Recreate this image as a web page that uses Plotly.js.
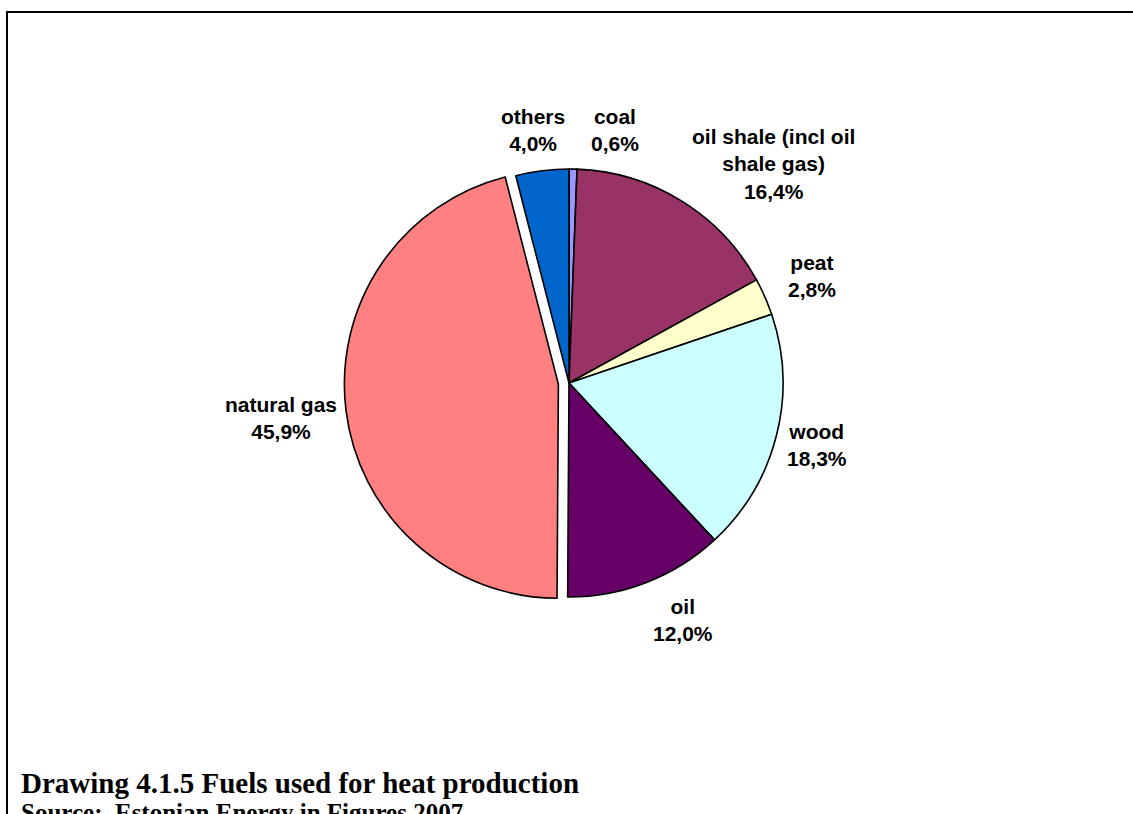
<!DOCTYPE html>
<html>
<head>
<meta charset="utf-8">
<script src="https://cdn.plot.ly/plotly-3.0.1.min.js"></script>
<style>
  html, body { margin: 0; padding: 0; background: #ffffff; }
  #chart { width: 1133px; height: 814px; }
</style>
</head>
<body>
<div id="chart"></div>
<script>
// ---- data ----
const categories = ["coal", "oil shale (incl oil shale gas)", "peat", "wood", "oil", "natural gas", "others"];
const shares = [0.6, 16.4, 2.8, 18.3, 12.0, 45.9, 4.0];
const sliceColors = ["#9999FF", "#993366", "#FFFFCC", "#CCFFFF", "#660066", "#FF8080", "#0066CC"];
const pulls = [0, 0, 0, 0, 0, 0.05, 0];
const titleText = "Drawing 4.1.5 Fuels used for heat production";
const sourceText = "Source:\u00A0 Estonian Energy in Figures 2007";

// ---- layout helpers (positions in page pixels) ----
const W = 1133, H = 814;
const px = x => x / W;
const py = y => 1 - y / H;
// label block centres, same order as categories
const labelPos = [[615, 130], [773, 164], [812, 276], [817, 445], [683, 620], [281, 418], [533, 130]];

function wrap(s, n) {
  const words = s.split(" ");
  const lines = [];
  let cur = "";
  words.forEach(w => {
    if (cur && (cur + " " + w).length > n) { lines.push(cur); cur = w; }
    else cur = cur ? cur + " " + w : w;
  });
  if (cur) lines.push(cur);
  return lines.join("<br>");
}
const fmt = v => v.toFixed(1).replace(".", ",") + "%";

const annotations = categories.map((c, i) => ({
  text: wrap(c, 20) + "<br>" + fmt(shares[i]),
  xref: "paper", yref: "paper",
  x: px(labelPos[i][0]), y: py(labelPos[i][1]),
  xanchor: "center", yanchor: "middle", align: "center",
  showarrow: false,
  font: { family: "Liberation Sans, Arial, sans-serif", size: 21, color: "#000000", weight: 700 }
}));
annotations.push({
  text: titleText, xref: "paper", yref: "paper",
  x: px(19), y: py(783), xanchor: "left", yanchor: "middle", showarrow: false,
  font: { family: "Liberation Serif, Times New Roman, serif", size: 29, color: "#000000", weight: 700 }
});
annotations.push({
  text: sourceText, xref: "paper", yref: "paper",
  x: px(19), y: py(812), xanchor: "left", yanchor: "middle", showarrow: false,
  font: { family: "Liberation Serif, Times New Roman, serif", size: 25, color: "#000000", weight: 700 }
});

const cx = 569, cy = 383, r = 214;
const half = r * (1 + Math.max(...pulls));

const trace = {
  type: "pie",
  labels: categories,
  values: shares,
  sort: false,
  direction: "clockwise",
  rotation: 0,
  pull: pulls,
  textinfo: "none",
  hoverinfo: "skip",
  showlegend: false,
  marker: { colors: sliceColors, line: { color: "#000000", width: 1.6 } },
  domain: { x: [px(cx - half), px(cx + half)], y: [py(cy + half), py(cy - half)] }
};

const layout = {
  width: W, height: H,
  margin: { l: 0, r: 0, t: 0, b: 0 },
  paper_bgcolor: "#ffffff",
  showlegend: false,
  separators: ",.",
  annotations: annotations,
  shapes: [{
    type: "rect", xref: "paper", yref: "paper",
    x0: px(7), x1: 1.05, y0: -0.1, y1: py(12),
    line: { color: "#000000", width: 2 }, fillcolor: "rgba(0,0,0,0)"
  }]
};

Plotly.newPlot("chart", [trace], layout, { displayModeBar: false, staticPlot: true });
</script>
</body>
</html>
